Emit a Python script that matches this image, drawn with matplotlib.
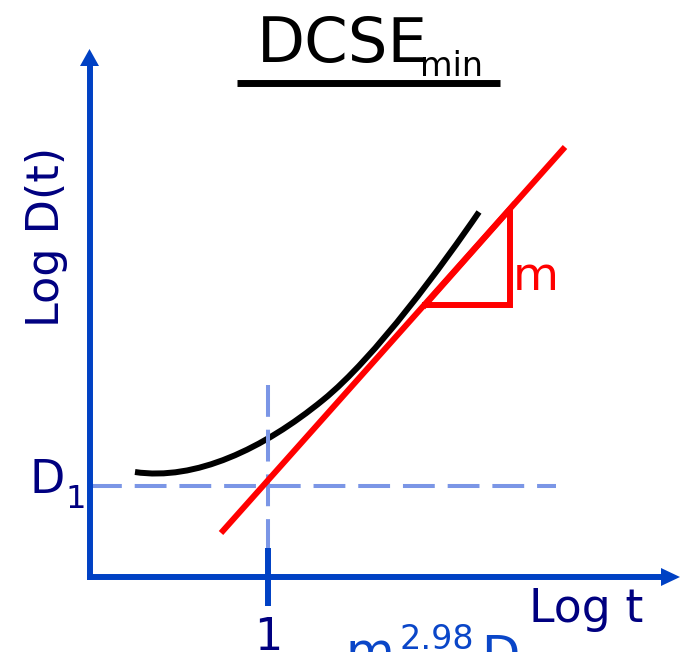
import matplotlib
matplotlib.use("Agg")
import matplotlib.pyplot as plt
from matplotlib.path import Path
from matplotlib.patches import PathPatch

# Sketch coordinates (x to the right, y downward, figure units)
# D(t) curve as two cubic Bezier pieces: anchor, control, control, anchor, ...
curve_x = [135, 195, 263, 323, 375, 444, 479]
curve_y = [472, 481, 449, 400, 358, 263, 212]

tangent_x = [221, 565]
tangent_y = [533, 147]

triangle_x = [425, 510, 510, 425]
triangle_y = [305, 209, 305, 305]

origin = (90, 577)
tick_x = 268
d1_y = 486

axis_blue = "#0041c4"
navy = "#000080"
dash_blue = "#7b96e6"
formula_blue = "#0a46c8"

fig = plt.figure(figsize=(6.81, 6.52), dpi=100)
ax = fig.add_axes([0, 0, 1, 1])
ax.set_xlim(0, 681)
ax.set_ylim(652, 0)
ax.axis("off")

# Guide lines through t = 1 and D1
ax.plot([tick_x, tick_x], [385, 548], color=dash_blue, lw=2.9,
        linestyle=(0, (7.9, 3.2)), solid_capstyle="butt")
ax.plot([origin[0], 556], [d1_y, d1_y], color=dash_blue, lw=2.9,
        linestyle=(0, (7.9, 3.2)), solid_capstyle="butt")

# Axes with arrowheads
ax.plot([origin[0], origin[0]], [origin[1] + 3, 64], color=axis_blue, lw=4.3,
        solid_capstyle="butt")
ax.fill([80, 99, 89.5], [66, 66, 49], color=axis_blue, lw=0)
ax.plot([origin[0] - 3, 663], [origin[1], origin[1]], color=axis_blue, lw=4.3,
        solid_capstyle="butt")
ax.fill([661, 661, 680], [568, 586, 577], color=axis_blue, lw=0)

# Tick at t = 1
ax.plot([tick_x, tick_x], [548, 606], color=axis_blue, lw=4.3,
        solid_capstyle="butt")

# D(t) curve
codes = [Path.MOVETO] + [Path.CURVE4] * (len(curve_x) - 1)
curve = Path(list(zip(curve_x, curve_y)), codes)
ax.add_patch(PathPatch(curve, facecolor="none", edgecolor="black", lw=4.3,
                       capstyle="butt"))

# Tangent line and slope triangle
ax.plot(tangent_x, tangent_y, color="red", lw=4.3, solid_capstyle="butt")
ax.plot(triangle_x, triangle_y, color="red", lw=4.3, solid_joinstyle="miter")

# Labels
ax.text(513, 290, "m", color="red", fontsize=34, ha="left", va="baseline")
ax.text(46, 237, "Log D(t)", color=navy, fontsize=32, rotation=90,
        ha="center", va="center")
ax.text(30, 493, "D", color=navy, fontsize=33, ha="left", va="baseline")
ax.text(65, 508, "1", color=navy, fontsize=23, ha="left", va="baseline")
ax.text(529, 622, "Log t", color=navy, fontsize=33, ha="left",
        va="baseline")
ax.text(tick_x, 650, "1", color=navy, fontsize=32, ha="center",
        va="baseline")

# Formula partly below the frame
ax.text(345, 668, "m", color=formula_blue, fontsize=36, ha="left",
        va="baseline")
ax.text(399, 649, "2.98", color=formula_blue, fontsize=24, ha="left",
        va="baseline")
ax.text(481, 671, "D", color=formula_blue, fontsize=36, ha="left",
        va="baseline")

# Title with underline
ax.text(257, 62, "DCSE", color="black", fontsize=45, ha="left",
        va="baseline")
ax.text(420, 76, "min", color="black", fontsize=24, ha="left",
        va="baseline")
ax.plot([237, 500], [82.5, 82.5], color="black", lw=5.0,
        solid_capstyle="butt")

fig.savefig("out.png", dpi=100)
